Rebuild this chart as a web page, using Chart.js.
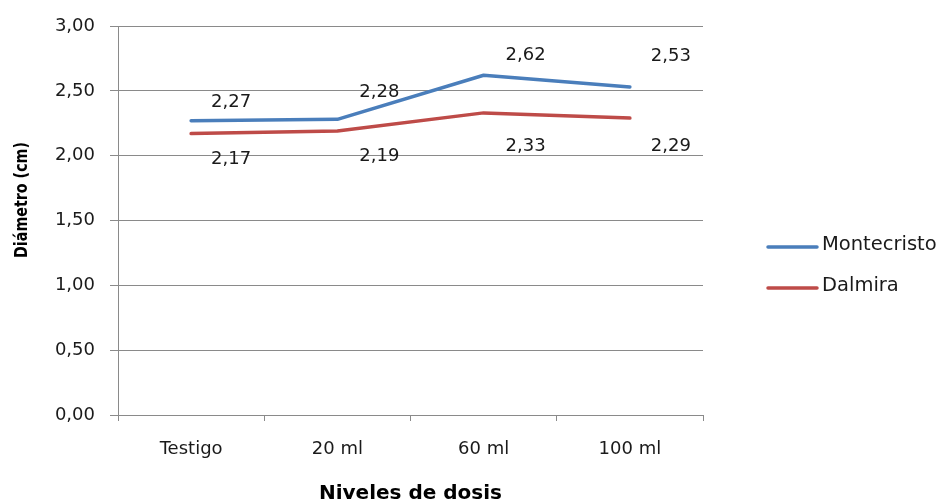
<!DOCTYPE html>
<html>
<head>
<meta charset="utf-8">
<script src="https://cdn.jsdelivr.net/npm/chart.js@4/dist/chart.umd.min.js"></script>
<style>
  html, body { margin: 0; padding: 0; background: #ffffff; }
  #wrap { width: 946px; height: 501px; position: relative; }
</style>
</head>
<body>
<div id="wrap"><canvas id="chart" width="946" height="501"></canvas></div>
<script>
// Dose levels and mean stem diameter (cm) per variety
const categories = ['Testigo', '20 ml', '60 ml', '100 ml'];
const seriesNames = ['Montecristo', 'Dalmira'];
const montecristo = [2.27, 2.28, 2.62, 2.53];
const dalmira = [2.17, 2.19, 2.33, 2.29];
const yTicks = [0, 0.5, 1, 1.5, 2, 2.5, 3];

// Where each value label sits relative to its point (px)
const labelOffsets = [
  [[40, -18], [42, -27], [42, -20], [41, -31]],
  [[40, 26], [42, 25], [42, 33], [41, 28]]
];

const FONT = 'DejaVu Sans';
const GRID = '#8a8a8a';
const TEXT = '#1a1a1a';
const fmt = v => Number(v).toFixed(2).replace('.', ',');

const decor = {
  id: 'decor',
  afterDatasetsDraw(chart) {
    const ctx = chart.ctx;
    ctx.save();
    // value labels
    ctx.font = '18px "' + FONT + '"';
    ctx.fillStyle = TEXT;
    ctx.textAlign = 'center';
    ctx.textBaseline = 'middle';
    chart.data.datasets.forEach((ds, i) => {
      const meta = chart.getDatasetMeta(i);
      meta.data.forEach((pt, j) => {
        const off = labelOffsets[i][j];
        ctx.fillText(fmt(ds.data[j]), pt.x + off[0], pt.y + off[1]);
      });
    });
    // legend on the right
    const legendY = [247, 288];
    chart.data.datasets.forEach((ds, i) => {
      const y = legendY[i];
      ctx.strokeStyle = ds.borderColor;
      ctx.lineWidth = 3.5;
      ctx.lineCap = 'round';
      ctx.beginPath();
      ctx.moveTo(768, y);
      ctx.lineTo(817, y);
      ctx.stroke();
      ctx.font = '19.5px "' + FONT + '"';
      ctx.fillStyle = TEXT;
      ctx.textAlign = 'left';
      ctx.textBaseline = 'middle';
      ctx.fillText(ds.label, 822, y - 2);
    });
    // vertical axis title, condensed along its length
    const yTitle = 'Diámetro (cm)';
    ctx.translate(22, 200);
    ctx.rotate(-Math.PI / 2);
    ctx.font = 'bold 18px "' + FONT + '"';
    const w = ctx.measureText(yTitle).width;
    ctx.scale(116 / w, 1);
    ctx.fillStyle = '#000000';
    ctx.textAlign = 'center';
    ctx.textBaseline = 'middle';
    ctx.fillText(yTitle, 0, 0);
    ctx.restore();
  }
};

new Chart(document.getElementById('chart'), {
  type: 'line',
  data: {
    labels: categories,
    datasets: [
      {
        label: seriesNames[0],
        data: montecristo,
        borderColor: '#4a7ebb',
        borderWidth: 3.5,
        pointRadius: 0,
        tension: 0,
        borderCapStyle: 'round',
        borderJoinStyle: 'round'
      },
      {
        label: seriesNames[1],
        data: dalmira,
        borderColor: '#be4b48',
        borderWidth: 3.5,
        pointRadius: 0,
        tension: 0,
        borderCapStyle: 'round',
        borderJoinStyle: 'round'
      }
    ]
  },
  options: {
    responsive: false,
    animation: false,
    devicePixelRatio: 1,
    layout: { padding: { top: 26, right: 243, left: 0, bottom: 0 } },
    plugins: {
      legend: { display: false },
      tooltip: { enabled: false }
    },
    scales: {
      x: {
        offset: true,
        afterFit(scale) { scale.height = 86; },
        grid: {
          offset: true,
          drawOnChartArea: false,
          drawTicks: true,
          tickLength: 6,
          color: GRID
        },
        border: { display: true, color: GRID },
        ticks: {
          padding: 18,
          color: TEXT,
          font: { family: FONT, size: 18 }
        },
        title: {
          display: true,
          text: 'Niveles de dosis',
          color: '#000000',
          padding: 0,
          font: { family: FONT, size: 20, weight: 'bold', lineHeight: 0.75 }
        }
      },
      y: {
        min: 0,
        max: 3,
        afterFit(scale) { scale.width = 118; },
        afterBuildTicks(scale) { scale.ticks = yTicks.map(v => ({ value: v })); },
        grid: {
          color: GRID,
          tickLength: 8,
          drawTicks: true
        },
        border: { display: true, color: GRID },
        ticks: {
          padding: 15,
          color: TEXT,
          font: { family: FONT, size: 18 },
          callback: v => fmt(v)
        }
      }
    }
  },
  plugins: [decor]
});
</script>
</body>
</html>
